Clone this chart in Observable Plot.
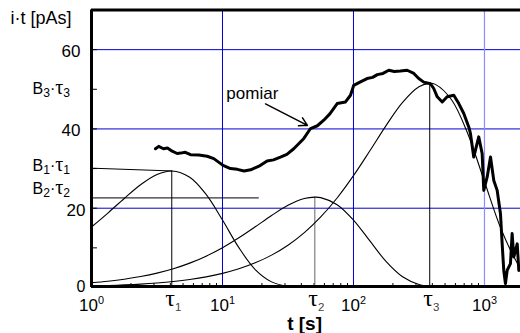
<!DOCTYPE html>
<html><head><meta charset="utf-8">
<script src="https://cdn.jsdelivr.net/npm/d3@7"></script>
<script src="https://cdn.jsdelivr.net/npm/@observablehq/plot@0.6"></script>
<style>
html,body{margin:0;padding:0;background:#fff;}
#chart svg{display:block;}
</style>
</head><body><div id="chart"></div>
<script>
// ---- data ----
const xDomain = [1, 1884];
const yDomain = [0, 70];
const gridY = [20, 40, 60];
const gridXDark = [10, 100];
const gridXLight = [1000];
const yTickVals = [0, 10, 20, 30, 40, 50, 60];
const yLabelsA = [60, 40];
const yLabelsB = [20];
const yLabelsC = [0];
const xMinor = [2,3,4,5,6,7,8,9,20,30,40,50,60,70,80,90,200,300,400,500,600,700,800,900];
const xTickVals = [1, 10, 100, 1000];
const xTickText = ["10^0", "10^1", "10^2", "10^3"];

const tauVals = [4.1, 50.7, 382];
const tauPeaks = [29.4, 22.8, 51.5];
const tauText = ["τ_1", "τ_2", "τ_3"];

const bText = ["B_3·τ_3", "B_1·τ_1", "B_2·τ_2"];
const bTextY = [48.9, 29.5, 23.6];

const b1LineT = [1, 4.1];
const b1LineV = [30.1, 29.4];
const b2LineT = [1, 18.8];
const b2LineV = [22.6, 22.6];

const curve1T = [1, 1.334, 1.778, 2.371, 3.162, 4.1, 5.623, 7.499, 10, 13.34, 17.78, 23.71, 31.62, 42.17, 56.23];
const curve1V = [15.27, 18.78, 22.46, 25.92, 28.50, 29.4, 27.81, 23.47, 17.01, 10.05, 4.53, 1.42, 0.28, 0.03, 0];

const curve2T = [1, 1.334, 1.778, 2.371, 3.162, 4.217, 5.623, 7.499, 10, 13.34, 17.78, 23.71, 31.62, 42.17, 50.7, 56.23, 74.99, 100, 133.4, 177.8, 237.1, 316.2, 421.7, 562.3];
const curve2V = [1.20, 1.59, 2.10, 2.77, 3.63, 4.74, 6.15, 7.91, 10.04, 12.53, 15.31, 18.16, 20.72, 22.44, 22.8, 22.67, 20.89, 17.01, 11.74, 6.52, 2.70, 0.76, 0.13, 0.02];

const curve3T = [1, 1.334, 1.778, 2.371, 3.162, 4.217, 5.623, 7.499, 10, 13.34, 17.78, 23.71, 31.62, 42.17, 56.23, 74.99, 100, 133.4, 177.8, 237.1, 316.2, 382, 421.7, 562.3, 749.9, 1000, 1334, 1778, 1884];
const curve3V = [0.37, 0.49, 0.65, 0.86, 1.15, 1.53, 2.03, 2.69, 3.57, 4.72, 6.22, 8.17, 10.67, 13.84, 17.79, 22.58, 28.21, 34.48, 40.91, 46.71, 50.64, 51.5, 51.24, 47.29, 38.59, 26.73, 14.88, 6.20, 4.98];

const measT = [3.08,3.26,3.54,3.80,4.13,4.51,4.78,5.20,5.70,6.60,7.64,8.58,10.1,11.5,13.0,14.6,16.4,19.0,21.9,24.5,27.7,31.0,35.0,41.8,47.0,53.0,59.3,66.0,75.1,86.9,94.9,100.5,112,127,140,152,168,186,205,228,257,289,315,344,387,410,436,476,519,583,637,695,759,782,828,904,960,988,1049,1112,1178,1250,1325,1365,1404,1446,1490,1579,1626,1675,1778,1829];
const measY = [35.0,35.6,35.0,35.2,34.4,33.8,33.9,34.1,33.5,33.4,33.1,32.5,30.8,30.0,29.8,29.4,29.7,30.6,31.9,32.2,32.9,33.6,35.0,37.6,40.1,40.8,42.2,43.8,46.4,46.8,48.5,51.0,51.8,52.7,53.0,53.7,54.0,54.8,54.5,54.6,54.8,54.0,52.7,51.8,51.4,50.2,48.1,46.8,48.1,48.5,46.4,43.9,40.5,38.8,32.9,38.0,33.8,24.5,27.9,32.9,27.0,24.5,18.6,11.0,4.3,1.0,4.3,6.0,13.6,7.7,11.0,4.3];

const yTitle = "i·t [pAs]";
const yTitleAt = {t: 1, v: 66.5};
const xTitle = "t [s]";
const xTitleAt = {t: 42.3, v: 0};
const measLabel = "pomiar";
const measLabelAt = {t: 16.9, v: 47.6};
const arrowFrom = {t: 21.3, v: 46.3};
const arrowTo = {t: 44.5, v: 40.9};

// ---- build tables ----
const zip = (T, V) => T.map((t, i) => ({t, v: V[i]}));
const tau = tauVals.map((t, i) => ({t, peak: tauPeaks[i], label: tauText[i]}));
const bLabels = bText.map((s, i) => ({s, v: bTextY[i]}));
const xLabels = xTickVals.map((t, i) => ({t, s: xTickText[i]}));

const lineOpts = {x: "t", y: "v", curve: "catmull-rom", stroke: "black", strokeWidth: 1.1};

const chart = Plot.plot({
  width: 520, height: 333,
  marginLeft: 91, marginRight: 0, marginTop: 9.5, marginBottom: 46,
  x: {type: "log", domain: xDomain, axis: null},
  y: {domain: yDomain, axis: null},
  style: {fontFamily: "Arial, 'Liberation Sans', sans-serif", background: "white", overflow: "visible"},
  marks: [
    Plot.ruleY(gridY, {stroke: "#0000d0", strokeWidth: 1}),
    Plot.ruleX(gridXDark, {stroke: "#0000d0", strokeWidth: 1}),
    Plot.ruleX(gridXLight, {stroke: "#8c8cff", strokeWidth: 1.2}),
    Plot.ruleY(yTickVals, {x1: 1, x2: 1.11, stroke: "black"}),
    Plot.ruleX(xMinor, {y1: 0, y2: 1.0, stroke: "black"}),
    Plot.ruleX(tau.filter((d, i) => i !== 1), {x: "t", y1: 0, y2: "peak", stroke: "black", strokeWidth: 1}),
    Plot.ruleX(tau.filter((d, i) => i === 1), {x: "t", y1: 0, y2: "peak", stroke: "#666", strokeWidth: 1}),
    Plot.line(zip(b1LineT, b1LineV), {x: "t", y: "v", stroke: "black", strokeWidth: 1}),
    Plot.line(zip(b2LineT, b2LineV), {x: "t", y: "v", stroke: "black", strokeWidth: 1}),
    Plot.line(zip(curve1T, curve1V), lineOpts),
    Plot.line(zip(curve2T, curve2V), lineOpts),
    Plot.line(zip(curve3T, curve3V), lineOpts),
    Plot.line(zip(measT, measY), {x: "t", y: "v", stroke: "black", strokeWidth: 3, strokeLinejoin: "round", strokeLinecap: "round"}),
    Plot.arrow([{x1: arrowFrom.t, y1: arrowFrom.v, x2: arrowTo.t, y2: arrowTo.v}], {x1: "x1", y1: "y1", x2: "x2", y2: "y2", stroke: "black", strokeWidth: 1.5, headLength: 9}),
    Plot.ruleY([yDomain[1]], {stroke: "black", strokeWidth: 3}),
    Plot.ruleY([yDomain[0]], {stroke: "black", strokeWidth: 3, dy: -1}),
    Plot.ruleX([xDomain[0]], {stroke: "black", strokeWidth: 3}),
    // texts
    Plot.text(yLabelsA, {x: xDomain[0], y: d => d, text: d => String(d), textAnchor: "end", dx: -11, dy: 2, fontSize: 17}),
    Plot.text(yLabelsB, {x: xDomain[0], y: d => d, text: d => String(d), textAnchor: "end", dx: -6, dy: 2, fontSize: 17}),
    Plot.text(yLabelsC, {x: xDomain[0], y: d => d, text: d => String(d), textAnchor: "end", dx: -6, dy: -1, fontSize: 16}),
    Plot.text(bLabels, {x: xDomain[0], y: "v", text: "s", textAnchor: "start", lineAnchor: "bottom", dx: -59, fontSize: 16}),
    Plot.text([yTitle], {x: yTitleAt.t, y: yTitleAt.v, text: d => d, textAnchor: "start", lineAnchor: "bottom", dx: -81, fontSize: 18}),
    Plot.text(xLabels, {x: "t", y: 0, text: "s", textAnchor: "middle", lineAnchor: "bottom", dy: 23, fontSize: 17}),
    Plot.text(tau, {x: "t", y: 0, text: "label", textAnchor: "start", lineAnchor: "bottom", dx: -6.5, dy: 18, fontSize: 24, fontFamily: "'Liberation Serif', serif"}),
    Plot.text([xTitle], {x: xTitleAt.t, y: xTitleAt.v, text: d => d, textAnchor: "middle", lineAnchor: "bottom", dy: 42, fontSize: 19, fontWeight: "bold"}),
    Plot.text([measLabel], {x: measLabelAt.t, y: measLabelAt.v, text: d => d, textAnchor: "middle", lineAnchor: "bottom", fontSize: 17})
  ]
});
document.getElementById("chart").appendChild(chart);

// sub/superscript rendering as real tspans
function richify(svg) {
  const NS = "http://www.w3.org/2000/svg";
  for (const el of svg.querySelectorAll("text")) {
    const s = el.textContent;
    if (!/[_^τ]/.test(s)) continue;
    const fs = parseFloat(getComputedStyle(el).fontSize) || 16;
    const big = fs >= 20;
    while (el.firstChild) el.removeChild(el.firstChild);
    let shift = 0;
    const add = (txt, o) => {
      const ts = document.createElementNS(NS, "tspan");
      ts.textContent = txt;
      const target = o.shift || 0;
      if (target - shift !== 0) ts.setAttribute("dy", target - shift);
      shift = target;
      if (o.size) ts.setAttribute("font-size", o.size);
      if (o.family) ts.setAttribute("font-family", o.family);
      if (o.fill) ts.setAttribute("fill", o.fill);
      el.appendChild(ts);
    };
    for (let i = 0; i < s.length; i++) {
      const c = s[i];
      if ((c === "_" || c === "^") && i + 1 < s.length) {
        const sub = c === "_";
        const d = s[++i];
        add(d, {shift: sub ? 0.21 * fs : -0.37 * fs, size: (sub ? (big ? 0.48 : 0.76) : 0.64) * fs,
                family: big ? "Arial, 'Liberation Sans', sans-serif" : null, fill: big ? "#444" : null});
      } else if (c === "τ" && !big) {
        add(c, {size: 1.25 * fs, family: "'Liberation Serif', serif"});
      } else {
        add(c, {});
      }
    }
  }
}
richify(chart);
</script>
</body></html>
